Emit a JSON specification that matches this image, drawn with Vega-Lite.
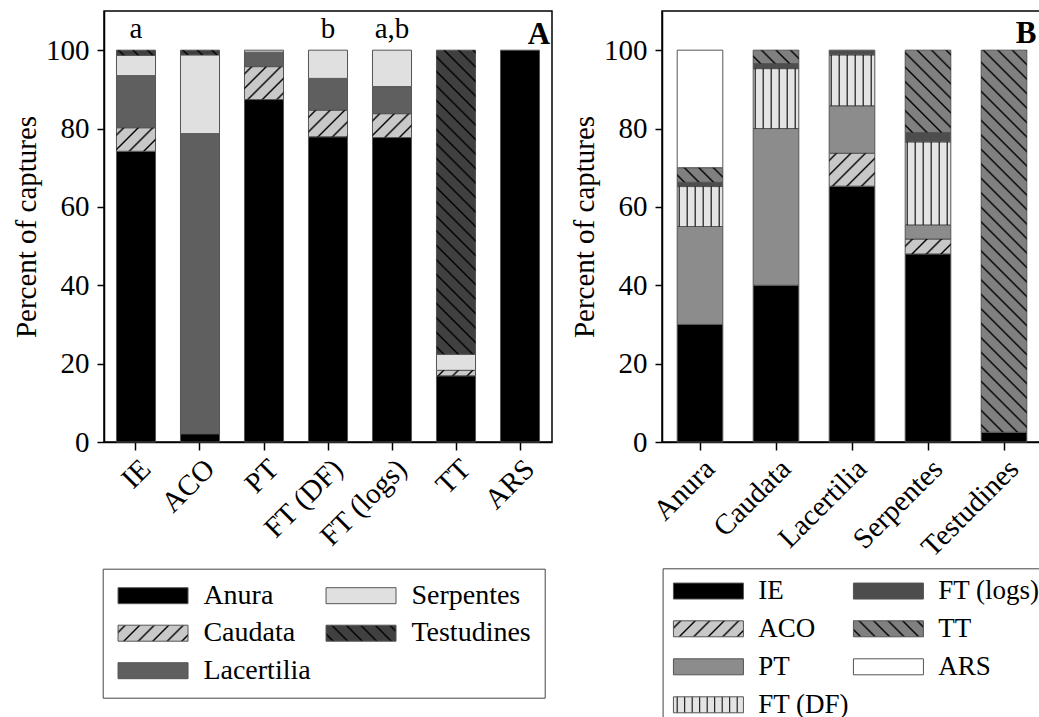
{
  "$schema": "https://vega.github.io/schema/vega-lite/v6.json",
  "background": "white",
  "padding": {"left": 11, "top": 10, "right": 0, "bottom": 0},
  "spacing": 16,
  "config": {
    "font": "Liberation Serif",
    "view": {"stroke": "black", "strokeWidth": 1.5},
    "axis": {"labelFont": "Liberation Serif", "titleFont": "Liberation Serif", "labelFontSize": 29, "titleFontSize": 29, "titleFontWeight": "normal", "labelColor": "black", "titleColor": "black", "domainColor": "black", "tickColor": "black", "domainWidth": 1.5, "tickWidth": 1.5, "grid": false},
    "legend": {"labelFont": "Liberation Serif"}
  },
  "params": [
    {"name": "hs", "value": [
      {"offset":0.0107,"color":"transparent"},{"offset":0.0147,"color":"#000"},{"offset":0.0187,"color":"transparent"},
      {"offset":0.0401,"color":"transparent"},{"offset":0.0441,"color":"#000"},{"offset":0.0481,"color":"transparent"},
      {"offset":0.0695,"color":"transparent"},{"offset":0.0735,"color":"#000"},{"offset":0.0775,"color":"transparent"},
      {"offset":0.0989,"color":"transparent"},{"offset":0.1029,"color":"#000"},{"offset":0.1069,"color":"transparent"},
      {"offset":0.1284,"color":"transparent"},{"offset":0.1324,"color":"#000"},{"offset":0.1364,"color":"transparent"},
      {"offset":0.1578,"color":"transparent"},{"offset":0.1618,"color":"#000"},{"offset":0.1658,"color":"transparent"},
      {"offset":0.1872,"color":"transparent"},{"offset":0.1912,"color":"#000"},{"offset":0.1952,"color":"transparent"},
      {"offset":0.2166,"color":"transparent"},{"offset":0.2206,"color":"#000"},{"offset":0.2246,"color":"transparent"},
      {"offset":0.2460,"color":"transparent"},{"offset":0.2500,"color":"#000"},{"offset":0.2540,"color":"transparent"},
      {"offset":0.2754,"color":"transparent"},{"offset":0.2794,"color":"#000"},{"offset":0.2834,"color":"transparent"},
      {"offset":0.3048,"color":"transparent"},{"offset":0.3088,"color":"#000"},{"offset":0.3128,"color":"transparent"},
      {"offset":0.3342,"color":"transparent"},{"offset":0.3382,"color":"#000"},{"offset":0.3422,"color":"transparent"},
      {"offset":0.3636,"color":"transparent"},{"offset":0.3676,"color":"#000"},{"offset":0.3716,"color":"transparent"},
      {"offset":0.3931,"color":"transparent"},{"offset":0.3971,"color":"#000"},{"offset":0.4011,"color":"transparent"},
      {"offset":0.4225,"color":"transparent"},{"offset":0.4265,"color":"#000"},{"offset":0.4305,"color":"transparent"},
      {"offset":0.4519,"color":"transparent"},{"offset":0.4559,"color":"#000"},{"offset":0.4599,"color":"transparent"},
      {"offset":0.4813,"color":"transparent"},{"offset":0.4853,"color":"#000"},{"offset":0.4893,"color":"transparent"},
      {"offset":0.5107,"color":"transparent"},{"offset":0.5147,"color":"#000"},{"offset":0.5187,"color":"transparent"},
      {"offset":0.5401,"color":"transparent"},{"offset":0.5441,"color":"#000"},{"offset":0.5481,"color":"transparent"},
      {"offset":0.5695,"color":"transparent"},{"offset":0.5735,"color":"#000"},{"offset":0.5775,"color":"transparent"},
      {"offset":0.5989,"color":"transparent"},{"offset":0.6029,"color":"#000"},{"offset":0.6069,"color":"transparent"},
      {"offset":0.6284,"color":"transparent"},{"offset":0.6324,"color":"#000"},{"offset":0.6364,"color":"transparent"},
      {"offset":0.6578,"color":"transparent"},{"offset":0.6618,"color":"#000"},{"offset":0.6658,"color":"transparent"},
      {"offset":0.6872,"color":"transparent"},{"offset":0.6912,"color":"#000"},{"offset":0.6952,"color":"transparent"},
      {"offset":0.7166,"color":"transparent"},{"offset":0.7206,"color":"#000"},{"offset":0.7246,"color":"transparent"},
      {"offset":0.7460,"color":"transparent"},{"offset":0.7500,"color":"#000"},{"offset":0.7540,"color":"transparent"},
      {"offset":0.7754,"color":"transparent"},{"offset":0.7794,"color":"#000"},{"offset":0.7834,"color":"transparent"},
      {"offset":0.8048,"color":"transparent"},{"offset":0.8088,"color":"#000"},{"offset":0.8128,"color":"transparent"},
      {"offset":0.8342,"color":"transparent"},{"offset":0.8382,"color":"#000"},{"offset":0.8422,"color":"transparent"},
      {"offset":0.8636,"color":"transparent"},{"offset":0.8676,"color":"#000"},{"offset":0.8716,"color":"transparent"},
      {"offset":0.8931,"color":"transparent"},{"offset":0.8971,"color":"#000"},{"offset":0.9011,"color":"transparent"},
      {"offset":0.9225,"color":"transparent"},{"offset":0.9265,"color":"#000"},{"offset":0.9305,"color":"transparent"},
      {"offset":0.9519,"color":"transparent"},{"offset":0.9559,"color":"#000"},{"offset":0.9599,"color":"transparent"},
      {"offset":0.9813,"color":"transparent"},{"offset":0.9853,"color":"#000"},{"offset":0.9893,"color":"transparent"}
    ]},
    {"name": "lsC", "value": [
      {"offset":0.0364,"color":"#c8c8c8"},{"offset":0.05,"color":"#000"},{"offset":0.0636,"color":"#c8c8c8"},
      {"offset":0.1364,"color":"#c8c8c8"},{"offset":0.15,"color":"#000"},{"offset":0.1636,"color":"#c8c8c8"},
      {"offset":0.2364,"color":"#c8c8c8"},{"offset":0.25,"color":"#000"},{"offset":0.2636,"color":"#c8c8c8"},
      {"offset":0.3364,"color":"#c8c8c8"},{"offset":0.35,"color":"#000"},{"offset":0.3636,"color":"#c8c8c8"},
      {"offset":0.4364,"color":"#c8c8c8"},{"offset":0.45,"color":"#000"},{"offset":0.4636,"color":"#c8c8c8"},
      {"offset":0.5364,"color":"#c8c8c8"},{"offset":0.55,"color":"#000"},{"offset":0.5636,"color":"#c8c8c8"},
      {"offset":0.6364,"color":"#c8c8c8"},{"offset":0.65,"color":"#000"},{"offset":0.6636,"color":"#c8c8c8"},
      {"offset":0.7364,"color":"#c8c8c8"},{"offset":0.75,"color":"#000"},{"offset":0.7636,"color":"#c8c8c8"},
      {"offset":0.8364,"color":"#c8c8c8"},{"offset":0.85,"color":"#000"},{"offset":0.8636,"color":"#c8c8c8"},
      {"offset":0.9364,"color":"#c8c8c8"},{"offset":0.95,"color":"#000"},{"offset":0.9636,"color":"#c8c8c8"}
    ]},
    {"name": "lsT", "value": [
      {"offset":0.0364,"color":"#404040"},{"offset":0.05,"color":"#000"},{"offset":0.0636,"color":"#404040"},
      {"offset":0.1364,"color":"#404040"},{"offset":0.15,"color":"#000"},{"offset":0.1636,"color":"#404040"},
      {"offset":0.2364,"color":"#404040"},{"offset":0.25,"color":"#000"},{"offset":0.2636,"color":"#404040"},
      {"offset":0.3364,"color":"#404040"},{"offset":0.35,"color":"#000"},{"offset":0.3636,"color":"#404040"},
      {"offset":0.4364,"color":"#404040"},{"offset":0.45,"color":"#000"},{"offset":0.4636,"color":"#404040"},
      {"offset":0.5364,"color":"#404040"},{"offset":0.55,"color":"#000"},{"offset":0.5636,"color":"#404040"},
      {"offset":0.6364,"color":"#404040"},{"offset":0.65,"color":"#000"},{"offset":0.6636,"color":"#404040"},
      {"offset":0.7364,"color":"#404040"},{"offset":0.75,"color":"#000"},{"offset":0.7636,"color":"#404040"},
      {"offset":0.8364,"color":"#404040"},{"offset":0.85,"color":"#000"},{"offset":0.8636,"color":"#404040"},
      {"offset":0.9364,"color":"#404040"},{"offset":0.95,"color":"#000"},{"offset":0.9636,"color":"#404040"}
    ]},
    {"name": "lsTT", "value": [
      {"offset":0.0364,"color":"#808080"},{"offset":0.05,"color":"#000"},{"offset":0.0636,"color":"#808080"},
      {"offset":0.1364,"color":"#808080"},{"offset":0.15,"color":"#000"},{"offset":0.1636,"color":"#808080"},
      {"offset":0.2364,"color":"#808080"},{"offset":0.25,"color":"#000"},{"offset":0.2636,"color":"#808080"},
      {"offset":0.3364,"color":"#808080"},{"offset":0.35,"color":"#000"},{"offset":0.3636,"color":"#808080"},
      {"offset":0.4364,"color":"#808080"},{"offset":0.45,"color":"#000"},{"offset":0.4636,"color":"#808080"},
      {"offset":0.5364,"color":"#808080"},{"offset":0.55,"color":"#000"},{"offset":0.5636,"color":"#808080"},
      {"offset":0.6364,"color":"#808080"},{"offset":0.65,"color":"#000"},{"offset":0.6636,"color":"#808080"},
      {"offset":0.7364,"color":"#808080"},{"offset":0.75,"color":"#000"},{"offset":0.7636,"color":"#808080"},
      {"offset":0.8364,"color":"#808080"},{"offset":0.85,"color":"#000"},{"offset":0.8636,"color":"#808080"},
      {"offset":0.9364,"color":"#808080"},{"offset":0.95,"color":"#000"},{"offset":0.9636,"color":"#808080"}
    ]},
    {"name": "lsV", "value": [
      {"offset":0.0364,"color":"#e4e4e4"},{"offset":0.05,"color":"#000"},{"offset":0.0636,"color":"#e4e4e4"},
      {"offset":0.1364,"color":"#e4e4e4"},{"offset":0.15,"color":"#000"},{"offset":0.1636,"color":"#e4e4e4"},
      {"offset":0.2364,"color":"#e4e4e4"},{"offset":0.25,"color":"#000"},{"offset":0.2636,"color":"#e4e4e4"},
      {"offset":0.3364,"color":"#e4e4e4"},{"offset":0.35,"color":"#000"},{"offset":0.3636,"color":"#e4e4e4"},
      {"offset":0.4364,"color":"#e4e4e4"},{"offset":0.45,"color":"#000"},{"offset":0.4636,"color":"#e4e4e4"},
      {"offset":0.5364,"color":"#e4e4e4"},{"offset":0.55,"color":"#000"},{"offset":0.5636,"color":"#e4e4e4"},
      {"offset":0.6364,"color":"#e4e4e4"},{"offset":0.65,"color":"#000"},{"offset":0.6636,"color":"#e4e4e4"},
      {"offset":0.7364,"color":"#e4e4e4"},{"offset":0.75,"color":"#000"},{"offset":0.7636,"color":"#e4e4e4"},
      {"offset":0.8364,"color":"#e4e4e4"},{"offset":0.85,"color":"#000"},{"offset":0.8636,"color":"#e4e4e4"},
      {"offset":0.9364,"color":"#e4e4e4"},{"offset":0.95,"color":"#000"},{"offset":0.9636,"color":"#e4e4e4"}
    ]}
  ],
  "hconcat": [
    {
      "width": 448,
      "height": 431,
      "layer": [
        {
          "data": {"values": [
            {"Method": "IE", "Taxon": "Anura", "Pct": 74.2},
            {"Method": "IE", "Taxon": "Caudata", "Pct": 6.0},
            {"Method": "IE", "Taxon": "Lacertilia", "Pct": 13.3},
            {"Method": "IE", "Taxon": "Serpentes", "Pct": 5.2},
            {"Method": "IE", "Taxon": "Testudines", "Pct": 1.3},
            {"Method": "ACO", "Taxon": "Anura", "Pct": 2.1},
            {"Method": "ACO", "Taxon": "Lacertilia", "Pct": 76.6},
            {"Method": "ACO", "Taxon": "Serpentes", "Pct": 20.1},
            {"Method": "ACO", "Taxon": "Testudines", "Pct": 1.2},
            {"Method": "PT", "Taxon": "Anura", "Pct": 87.4},
            {"Method": "PT", "Taxon": "Caudata", "Pct": 8.4},
            {"Method": "PT", "Taxon": "Lacertilia", "Pct": 3.7},
            {"Method": "PT", "Taxon": "Serpentes", "Pct": 0.5},
            {"Method": "FT (DF)", "Taxon": "Anura", "Pct": 77.9},
            {"Method": "FT (DF)", "Taxon": "Caudata", "Pct": 6.8},
            {"Method": "FT (DF)", "Taxon": "Lacertilia", "Pct": 8.1},
            {"Method": "FT (DF)", "Taxon": "Serpentes", "Pct": 7.2},
            {"Method": "FT (logs)", "Taxon": "Anura", "Pct": 77.7},
            {"Method": "FT (logs)", "Taxon": "Caudata", "Pct": 6.1},
            {"Method": "FT (logs)", "Taxon": "Lacertilia", "Pct": 6.9},
            {"Method": "FT (logs)", "Taxon": "Serpentes", "Pct": 9.3},
            {"Method": "TT", "Taxon": "Anura", "Pct": 16.9},
            {"Method": "TT", "Taxon": "Caudata", "Pct": 1.4},
            {"Method": "TT", "Taxon": "Serpentes", "Pct": 4.1},
            {"Method": "TT", "Taxon": "Testudines", "Pct": 77.6},
            {"Method": "ARS", "Taxon": "Anura", "Pct": 100}
          ]},
          "transform": [
            {"calculate": "indexof(['Anura','Caudata','Lacertilia','Serpentes','Testudines'], datum.Taxon)", "as": "ord"},
            {"stack": "Pct", "groupby": ["Method"], "sort": [{"field": "ord", "order": "ascending"}], "as": ["y0", "y1"]}
          ],
          "encoding": {
            "x": {"field": "Method", "type": "nominal", "sort": ["IE", "ACO", "PT", "FT (DF)", "FT (logs)", "TT", "ARS"], "scale": {"paddingInner": 0.39, "paddingOuter": 0.195}, "axis": {"title": null, "labelAngle": -45, "tickSize": 8, "labelPadding": 4, "labelFont": "Liberation Serif"}},
            "y": {"field": "y1", "type": "quantitative", "scale": {"domain": [0, 110], "nice": false}, "axis": {"title": "Percent of captures", "values": [0, 20, 40, 60, 80, 100], "tickSize": 7, "labelPadding": 8, "titlePadding": 4, "labelFont": "Liberation Serif", "titleFont": "Liberation Serif"}},
            "y2": {"field": "y0"}
          },
          "layer": [
            {
              "mark": {"type": "bar", "strokeWidth": 1, "fill": {"expr": "datum.value ? (datum.value == 'Caudata' ? {gradient: 'linear', x1: 0, y1: 0, x2: 1.9686, y2: 0.45, stops: lsC} : datum.value == 'Testudines' ? {gradient: 'linear', x1: 0, y1: 1, x2: 1.9686, y2: 0.55, stops: lsT} : datum.value == 'Anura' ? '#000000' : datum.value == 'Lacertilia' ? '#5f5f5f' : '#e0e0e0') : (datum.Taxon == 'Anura' ? '#000000' : datum.Taxon == 'Caudata' ? '#c8c8c8' : datum.Taxon == 'Lacertilia' ? '#5f5f5f' : datum.Taxon == 'Serpentes' ? '#e0e0e0' : '#404040')"}},
              "encoding": {
                "stroke": {"field": "Taxon", "type": "nominal",
                  "scale": {"domain": ["Anura", "Caudata", "Lacertilia", "Serpentes", "Testudines"], "range": ["#555555", "#555555", "#555555", "#555555", "#555555"]},
                  "legend": {"orient": "none", "legendX": -1.3, "legendY": 557.7, "columns": 2, "title": null, "symbolType": "M-1,-0.686H5V0.686H-1Z", "symbolSize": 544.4, "symbolOpacity": 1, "symbolStrokeWidth": 1, "labelFont": "Liberation Serif", "labelFontSize": 28, "labelColor": "black", "labelOffset": 59.7, "labelLimit": 400, "rowPadding": 9.5, "columnPadding": 13, "padding": 13, "gridAlign": "each", "strokeColor": "#444444",
                    "encode": {"legend": {"strokeWidth": {"value": 1.5}}}}
                }
              }
            },
            {
              "transform": [{"filter": "datum.Taxon == 'Caudata' || datum.Taxon == 'Testudines'"}],
              "mark": {"type": "bar", "fill": {"expr": "datum.Taxon == 'Caudata' ? {gradient: 'linear', x1: 0, y1: 0, x2: 493*39/(1521+pow((datum.y1-datum.y0)*3.918,2)), y2: 493*(datum.y1-datum.y0)*3.918/(1521+pow((datum.y1-datum.y0)*3.918,2)), stops: hs} : {gradient: 'linear', x1: 0, y1: 1, x2: 493*39/(1521+pow((datum.y1-datum.y0)*3.918,2)), y2: 1-493*(datum.y1-datum.y0)*3.918/(1521+pow((datum.y1-datum.y0)*3.918,2)), stops: hs}"}}
            }
          ]
        },
        {
          "data": {"values": [
            {"Method": "IE", "lab": "a"},
            {"Method": "FT (DF)", "lab": "b"},
            {"Method": "FT (logs)", "lab": "a,b"}
          ]},
          "mark": {"type": "text", "font": "Liberation Serif", "fontSize": 29, "baseline": "alphabetic", "color": "black"},
          "encoding": {
            "x": {"field": "Method", "type": "nominal", "sort": ["IE", "ACO", "PT", "FT (DF)", "FT (logs)", "TT", "ARS"]},
            "y": {"datum": 103},
            "text": {"field": "lab"}
          }
        },
        {
          "data": {"values": [{"Method": "ARS", "lab": "A"}]},
          "mark": {"type": "text", "font": "Liberation Serif", "fontSize": 31, "fontWeight": "bold", "baseline": "alphabetic", "color": "black", "dx": 19},
          "encoding": {
            "x": {"field": "Method", "type": "nominal", "sort": ["IE", "ACO", "PT", "FT (DF)", "FT (logs)", "TT", "ARS"]},
            "y": {"datum": 101.7},
            "text": {"field": "lab"}
          }
        }
      ]
    },
    {
      "width": 380,
      "height": 431,
      "layer": [
        {
          "data": {"values": [
            {"Taxon": "Anura", "Method": "IE", "Pct": 30},
            {"Taxon": "Anura", "Method": "PT", "Pct": 25},
            {"Taxon": "Anura", "Method": "FT (DF)", "Pct": 10.2},
            {"Taxon": "Anura", "Method": "FT (logs)", "Pct": 1.1},
            {"Taxon": "Anura", "Method": "TT", "Pct": 3.7},
            {"Taxon": "Anura", "Method": "ARS", "Pct": 30},
            {"Taxon": "Caudata", "Method": "IE", "Pct": 40},
            {"Taxon": "Caudata", "Method": "PT", "Pct": 40},
            {"Taxon": "Caudata", "Method": "FT (DF)", "Pct": 15.3},
            {"Taxon": "Caudata", "Method": "FT (logs)", "Pct": 1.3},
            {"Taxon": "Caudata", "Method": "TT", "Pct": 3.4},
            {"Taxon": "Lacertilia", "Method": "IE", "Pct": 65.3},
            {"Taxon": "Lacertilia", "Method": "ACO", "Pct": 8.4},
            {"Taxon": "Lacertilia", "Method": "PT", "Pct": 12.1},
            {"Taxon": "Lacertilia", "Method": "FT (DF)", "Pct": 13.0},
            {"Taxon": "Lacertilia", "Method": "FT (logs)", "Pct": 1.2},
            {"Taxon": "Serpentes", "Method": "IE", "Pct": 48},
            {"Taxon": "Serpentes", "Method": "ACO", "Pct": 3.8},
            {"Taxon": "Serpentes", "Method": "PT", "Pct": 3.6},
            {"Taxon": "Serpentes", "Method": "FT (DF)", "Pct": 21.2},
            {"Taxon": "Serpentes", "Method": "FT (logs)", "Pct": 2.4},
            {"Taxon": "Serpentes", "Method": "TT", "Pct": 21.0},
            {"Taxon": "Testudines", "Method": "IE", "Pct": 2.5},
            {"Taxon": "Testudines", "Method": "TT", "Pct": 97.5}
          ]},
          "transform": [
            {"calculate": "indexof(['IE','ACO','PT','FT (DF)','FT (logs)','TT','ARS'], datum.Method)", "as": "ord"},
            {"stack": "Pct", "groupby": ["Taxon"], "sort": [{"field": "ord", "order": "ascending"}], "as": ["y0", "y1"]}
          ],
          "encoding": {
            "x": {"field": "Taxon", "type": "nominal", "sort": ["Anura", "Caudata", "Lacertilia", "Serpentes", "Testudines"], "scale": {"paddingInner": 0.4, "paddingOuter": 0.2}, "axis": {"title": null, "labelAngle": -45, "tickSize": 8, "labelPadding": 4, "labelFont": "Liberation Serif"}},
            "y": {"field": "y1", "type": "quantitative", "scale": {"domain": [0, 110], "nice": false}, "axis": {"title": "Percent of captures", "values": [0, 20, 40, 60, 80, 100], "tickSize": 7, "labelPadding": 8, "titlePadding": 4, "labelFont": "Liberation Serif", "titleFont": "Liberation Serif"}},
            "y2": {"field": "y0"}
          },
          "layer": [
            {
              "mark": {"type": "bar", "strokeWidth": 1, "fill": {"expr": "datum.value ? (datum.value == 'ACO' ? {gradient: 'linear', x1: 0, y1: 0, x2: 1.9686, y2: 0.45, stops: lsC} : datum.value == 'FT (DF)' ? {gradient: 'linear', x1: 0, y1: 0, x2: 1.0714, y2: 0, stops: lsV} : datum.value == 'TT' ? {gradient: 'linear', x1: 0, y1: 1, x2: 1.9686, y2: 0.55, stops: lsTT} : datum.value == 'IE' ? '#000000' : datum.value == 'PT' ? '#8c8c8c' : datum.value == 'FT (logs)' ? '#4d4d4d' : '#ffffff') : (datum.Method == 'IE' ? '#000000' : datum.Method == 'ACO' ? '#c8c8c8' : datum.Method == 'PT' ? '#8c8c8c' : datum.Method == 'FT (DF)' ? '#e4e4e4' : datum.Method == 'FT (logs)' ? '#4d4d4d' : datum.Method == 'TT' ? '#808080' : '#ffffff')"}},
              "encoding": {
                "stroke": {"field": "Method", "type": "nominal",
                  "scale": {"domain": ["IE", "ACO", "PT", "FT (DF)", "FT (logs)", "TT", "ARS"], "range": ["#555555", "#555555", "#555555", "#555555", "#555555", "#555555", "#555555"]},
                  "legend": {"orient": "none", "legendX": 0.6, "legendY": 557.3, "columns": 2, "title": null, "symbolType": "M-1,-0.686H5V0.686H-1Z", "symbolSize": 544.4, "symbolOpacity": 1, "symbolStrokeWidth": 1, "labelFont": "Liberation Serif", "labelFontSize": 27, "labelColor": "black", "labelOffset": 59.7, "labelLimit": 400, "rowPadding": 10, "columnPadding": 1, "padding": 9, "gridAlign": "each", "strokeColor": "#444444",
                    "encode": {"legend": {"strokeWidth": {"value": 1.5}}}}
                }
              }
            },
            {
              "transform": [{"filter": "datum.Method == 'ACO' || datum.Method == 'TT' || datum.Method == 'FT (DF)'"}],
              "mark": {"type": "bar", "fill": {"expr": "datum.Method == 'FT (DF)' ? {gradient: 'linear', x1: -0.0439, y1: 0, x2: 5.921, y2: 0, stops: hs} : datum.Method == 'ACO' ? {gradient: 'linear', x1: 0, y1: 0, x2: 493*45.6/(2079.4+pow((datum.y1-datum.y0)*3.918,2)), y2: 493*(datum.y1-datum.y0)*3.918/(2079.4+pow((datum.y1-datum.y0)*3.918,2)), stops: hs} : {gradient: 'linear', x1: 0, y1: 1, x2: 493*45.6/(2079.4+pow((datum.y1-datum.y0)*3.918,2)), y2: 1-493*(datum.y1-datum.y0)*3.918/(2079.4+pow((datum.y1-datum.y0)*3.918,2)), stops: hs}"}}
            }
          ]
        },
        {
          "data": {"values": [{"Taxon": "Testudines", "lab": "B"}]},
          "mark": {"type": "text", "font": "Liberation Serif", "fontSize": 31, "fontWeight": "bold", "baseline": "alphabetic", "color": "black", "dx": 22},
          "encoding": {
            "x": {"field": "Taxon", "type": "nominal", "sort": ["Anura", "Caudata", "Lacertilia", "Serpentes", "Testudines"]},
            "y": {"datum": 101.8},
            "text": {"field": "lab"}
          }
        }
      ]
    }
  ],
  "resolve": {"scale": {"stroke": "independent", "x": "independent", "y": "independent"}, "legend": {"stroke": "independent"}}
}
